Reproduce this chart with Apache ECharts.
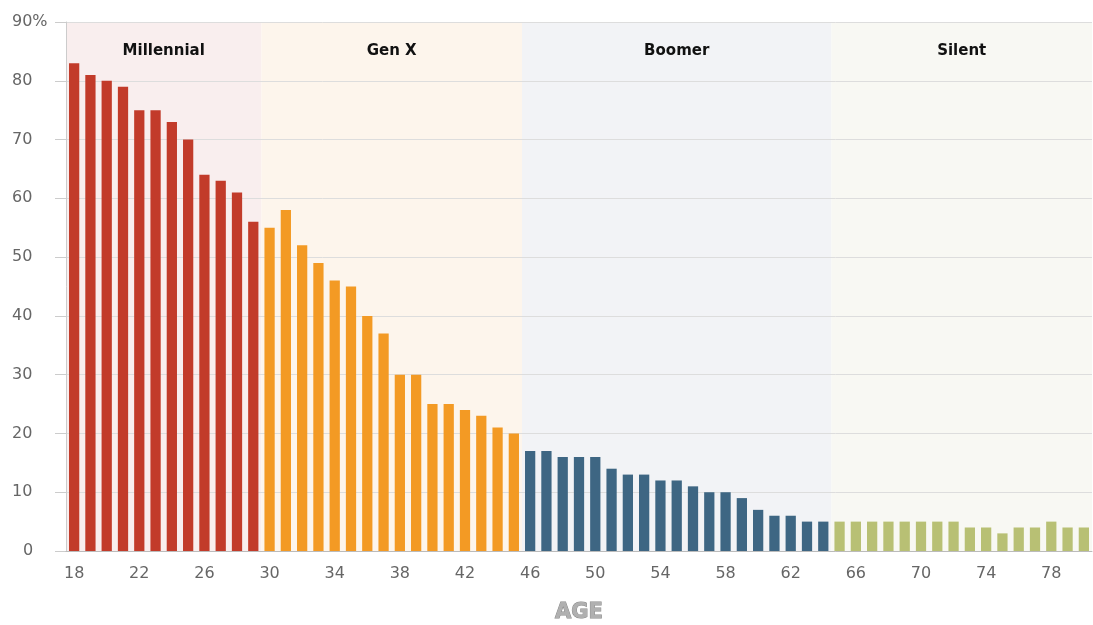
<!DOCTYPE html>
<html>
<head>
<meta charset="utf-8">
<script src="https://cdn.jsdelivr.net/npm/echarts@6/dist/echarts.min.js"></script>
<style>html,body{margin:0;padding:0;background:#fff}#c{width:1093px;height:625px}</style>
</head>
<body>
<div id="c"></div>
<script>
const ages = ['18','19','20','21','22','23','24','25','26','27','28','29',
  '30','31','32','33','34','35','36','37','38','39','40','41','42','43','44','45',
  '46','47','48','49','50','51','52','53','54','55','56','57','58','59','60','61','62','63','64',
  '65','66','67','68','69','70','71','72','73','74','75','76','77','78','79','80'];
const millennialValues = [83,81,80,79,75,75,73,70,64,63,61,56];
const genXValues = [55,58,52,49,46,45,40,37,30,30,25,25,24,23,21,20];
const boomerValues = [17,17,16,16,16,14,13,13,12,12,11,10,10,9,7,6,6,5,5];
const silentValues = [5,5,5,5,5,5,5,5,4,4,3,4,4,5,4,4];
const generationNames = ['Millennial','Gen X','Boomer','Silent'];

const barColors = ['#c23b2a','#f39a24','#3e6683','#b8c074'];
const bandColors = ['#f9eeee','#fdf5ec','#f2f3f6','#f8f8f3'];

const groups = [millennialValues, genXValues, boomerValues, silentValues];
const barData = [];
const bands = [];
let start = 0;
groups.forEach((g, gi) => {
  g.forEach(v => barData.push({value: v, itemStyle: {color: barColors[gi]}}));
  bands.push([
    {name: generationNames[gi], xAxis: start, itemStyle: {color: bandColors[gi]}},
    {xAxis: start + g.length}
  ]);
  start += g.length;
});

const FONT = 'DejaVu Sans';
const chart = echarts.init(document.getElementById('c'));
chart.setOption({
  animation: false,
  backgroundColor: '#fff',
  grid: {left: 66, right: 1, top: 22, bottom: 74, containLabel: false, outerBoundsMode: 'none'},
  xAxis: [{
    type: 'category',
    data: ages,
    boundaryGap: true,
    name: 'AGE',
    nameLocation: 'middle',
    nameGap: 51,
    nameTextStyle: {fontFamily: FONT, fontSize: 21, fontWeight: 'bold', color: '#b0b0b0', textBorderColor: '#8a8a8a', textBorderWidth: 1},
    axisLine: {lineStyle: {color: '#bbbbbb', width: 1}},
    axisTick: {show: false},
    axisLabel: {interval: 3, margin: 15, fontFamily: FONT, fontSize: 16, color: '#666'},
    z: 4
  }, {
    type: 'value', min: 0, max: ages.length, show: false
  }],
  yAxis: {
    type: 'value',
    min: 0, max: 90, interval: 10,
    axisLine: {show: true, lineStyle: {color: '#cccccc'}},
    axisTick: {show: true, length: 11, lineStyle: {color: '#cccccc'}},
    axisLabel: {
      align: 'left', margin: 54, fontFamily: FONT, fontSize: 16, color: '#666',
      formatter: v => v === 90 ? '90%' : (v === 0 ? '{z|0}' : String(v)),
      rich: {z: {padding: [0,0,0,11], fontFamily: FONT, fontSize: 16, color: '#666'}}
    },
    splitLine: {show: true, lineStyle: {color: '#dddddd', width: 1}},
    z: 2
  },
  series: [{
    type: 'line',
    xAxisIndex: 1,
    data: [[0, 0]],
    showSymbol: false,
    lineStyle: {width: 0, opacity: 0},
    silent: true,
    z: 1,
    markArea: {
      silent: true,
      label: {
        show: true, position: 'insideTop', distance: 22,
        fontFamily: FONT, fontSize: 15, fontWeight: 'bold', color: '#111'
      },
      data: bands
    }
  }, {
    type: 'bar',
    data: barData,
    barCategoryGap: '37%',
    z: 3
  }]
});
</script>
</body>
</html>
